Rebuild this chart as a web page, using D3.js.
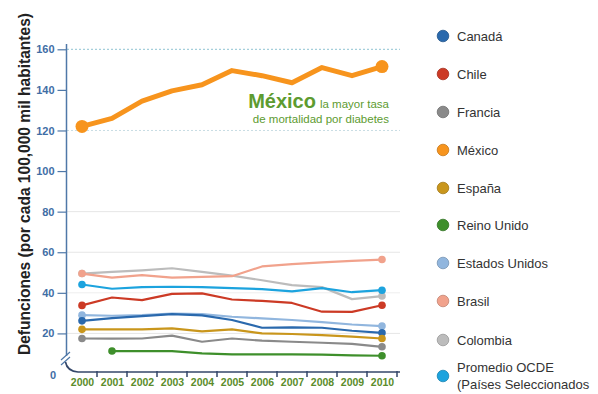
<!DOCTYPE html>
<html>
<head>
<meta charset="utf-8">
<script src="https://cdn.jsdelivr.net/npm/d3@7"></script>
<style>
  html, body { margin: 0; padding: 0; background: #fff; }
  svg { display: block; }
  text { font-family: Arial, "Liberation Sans", Helvetica, sans-serif; }
</style>
</head>
<body>
<svg id="chart" width="598" height="394"></svg>
<script>
// Mortalidad por diabetes, defunciones por cada 100,000 habitantes, 2000-2010
const years = [2000, 2001, 2002, 2003, 2004, 2005, 2006, 2007, 2008, 2009, 2010];
const yTicks = [20, 40, 60, 80, 100, 120, 140, 160];

const canada    = [26.2, 27.5, 28.5, 29.5, 28.9, 26.6, 22.8, 23.0, 22.8, 21.3, 20.3];
const chile     = [33.8, 37.7, 36.4, 39.5, 39.7, 36.7, 36.0, 35.0, 30.7, 30.6, 33.9];
const francia   = [17.5, 17.4, 17.5, 18.9, 15.9, 17.5, 16.4, 15.9, 15.4, 14.8, 13.4];
const mexico    = [122, 126, 134.5, 139.5, 142.5, 149.5, 147, 143.5, 151, 147, 151.5];
const espana    = [22.0, 22.0, 22.0, 22.5, 21.0, 22.0, 20.0, 19.7, 19.2, 18.4, 17.5];
const reinoUnido= [null, 11.3, 11.3, 11.3, 10.2, 9.7, 9.7, 9.7, 9.5, 9.2, 9.0];
const eeuu      = [29.0, 28.7, 29.0, 29.8, 29.5, 28.2, 27.4, 26.6, 25.6, 24.4, 23.6];
const brasil    = [49.5, 47.5, 48.7, 47.5, 47.9, 48.2, 53.0, 54.1, 55.0, 55.7, 56.4];
const colombia  = [49.5, 50.3, 51.1, 52.1, 50.3, 48.5, 46.2, 43.8, 42.8, 36.9, 38.4];
const ocde      = [44.1, 42.0, 42.8, 43.0, 42.8, 42.3, 41.8, 40.7, 42.3, 40.3, 41.3];

const seriesNames  = ["Canadá", "Chile", "Francia", "México", "España", "Reino Unido",
                      "Estados Unidos", "Brasil", "Colombia", "Promedio OCDE"];
const seriesValues = [canada, chile, francia, mexico, espana, reinoUnido,
                      eeuu, brasil, colombia, ocde];
const seriesColors = ["#2a69ad", "#cc3a25", "#8a8a8a", "#f7941d", "#c9961c", "#3e8f2b",
                      "#91b6de", "#f1a28c", "#bcbcbc", "#1ca3de"];
const legendLabels = [["Canadá"], ["Chile"], ["Francia"], ["México"], ["España"], ["Reino Unido"],
                      ["Estados Unidos"], ["Brasil"], ["Colombia"],
                      ["Promedio OCDE", "(Países Seleccionados"]];

const svg = d3.select("#chart");

const x = d3.scaleLinear().domain([2000, 2010]).range([82, 382]);
const y = d3.scaleLinear().domain([0, 160]).range([374, 49.3]);

// Gridlines
const gridStyle = {
  160: { c: "#8fc3d3", dash: "2,2" },
  120: { c: "#c8dde4", dash: "2,2" },
  80:  { c: "#e6e6e6", dash: null },
  60:  { c: "#e6e6e6", dash: null },
  40:  { c: "#eeeeee", dash: null },
  20:  { c: "#e6e6e6", dash: null }
};
svg.append("g").selectAll("line")
  .data(yTicks.filter(t => gridStyle[t]))
  .join("line")
  .attr("x1", 67).attr("x2", 400)
  .attr("y1", d => y(d)).attr("y2", d => y(d))
  .attr("stroke", d => gridStyle[d].c)
  .attr("stroke-width", 1)
  .attr("stroke-dasharray", d => gridStyle[d].dash);

// Y axis
const yAxis = svg.append("g")
  .attr("transform", "translate(66.5,0)")
  .call(d3.axisLeft(y).tickValues(yTicks).tickSize(9).tickPadding(3));
yAxis.select(".domain").remove();
yAxis.selectAll(".tick line").attr("stroke", "#4f78a8").attr("stroke-width", 1.2);
yAxis.selectAll(".tick text")
  .attr("fill", "#3f6ea6")
  .attr("font-size", 11)
  .attr("font-weight", "bold")
  .attr("font-family", "Arial, sans-serif");

svg.append("line")
  .attr("x1", 66.5).attr("x2", 66.5)
  .attr("y1", 44).attr("y2", 356)
  .attr("stroke", "#4f78a8").attr("stroke-width", 1.5);

// Axis break and curved join with the x axis
svg.append("path")
  .attr("d", "M61,360 L70,352 M61,365 L70,357")
  .attr("stroke", "#4f78a8").attr("stroke-width", 1.2).attr("fill", "none");
svg.append("path")
  .attr("d", "M65.5,362 Q67,371 78,372 L400,372")
  .attr("stroke", "#34476a").attr("stroke-width", 1.6).attr("fill", "none");

svg.append("text")
  .attr("x", 56).attr("y", y(0) + 5)
  .attr("text-anchor", "end")
  .attr("fill", "#3f6ea6").attr("font-size", 11).attr("font-weight", "bold")
  .text("0");

// X axis: tick marks between years, labels centred on years
const step = x(2001) - x(2000);
const tickPos = years.map(v => x(v) + step / 2);
svg.append("g").selectAll("line")
  .data(tickPos)
  .join("line")
  .attr("x1", d => d).attr("x2", d => d)
  .attr("y1", 371).attr("y2", 377)
  .attr("stroke", "#34476a").attr("stroke-width", 1.5);

const xAxis = svg.append("g")
  .attr("transform", "translate(0,372)")
  .call(d3.axisBottom(x).tickValues(years).tickFormat(d3.format("d")).tickSize(0).tickPadding(6));
xAxis.select(".domain").remove();
xAxis.selectAll(".tick text")
  .attr("fill", "#5b8c2a")
  .attr("font-size", 10.5)
  .attr("font-weight", "bold")
  .attr("font-family", "Arial, sans-serif")
  .attr("dy", "0.75em");

// Y axis title
svg.append("text")
  .attr("transform", "translate(30,184) rotate(-90)")
  .attr("text-anchor", "middle")
  .attr("font-size", 16)
  .attr("font-weight", "bold")
  .attr("fill", "#222")
  .attr("textLength", 342)
  .attr("lengthAdjust", "spacingAndGlyphs")
  .text("Defunciones (por cada 100,000 mil habitantes)");

// Lines
const line = d3.line()
  .defined(d => d.v !== null)
  .x(d => x(d.year))
  .y(d => y(d.v));

const drawOrder = [8, 7, 9, 1, 6, 0, 4, 2, 5, 3];
const plot = svg.append("g");
drawOrder.forEach(i => {
  const pts = years.map((yr, k) => ({ year: yr, v: seriesValues[i][k] }));
  const valid = pts.filter(p => p.v !== null);
  const isMx = seriesNames[i] === "México";
  plot.append("path")
    .datum(pts)
    .attr("d", line)
    .attr("fill", "none")
    .attr("stroke", seriesColors[i])
    .attr("stroke-width", isMx ? 5 : 2.2)
    .attr("stroke-linejoin", "round")
    .attr("stroke-linecap", "round");
  plot.selectAll(null)
    .data([valid[0], valid[valid.length - 1]])
    .join("circle")
    .attr("cx", d => x(d.year))
    .attr("cy", d => y(d.v))
    .attr("r", isMx ? 6.5 : 3.8)
    .attr("fill", seriesColors[i]);
});

// Annotation
const ann = svg.append("text")
  .attr("x", 389).attr("y", 108)
  .attr("text-anchor", "end")
  .attr("fill", "#5d9b30");
ann.append("tspan")
  .attr("font-size", 20).attr("font-weight", "bold")
  .text("México");
ann.append("tspan")
  .attr("font-size", 11.5).attr("dx", 4)
  .text("la mayor tasa");
svg.append("text")
  .attr("x", 389).attr("y", 123)
  .attr("text-anchor", "end")
  .attr("fill", "#5d9b30")
  .attr("font-size", 11.5)
  .text("de mortalidad por diabetes");

// Legend
const legendY = [36, 74, 112, 150, 188, 225, 263, 301, 340, 376];
const legend = svg.append("g");
seriesNames.forEach((name, i) => {
  const g = legend.append("g").attr("transform", `translate(443,${legendY[i]})`);
  g.append("circle")
    .attr("r", 5.8)
    .attr("fill", seriesColors[i])
    .attr("stroke", d3.color(seriesColors[i]).darker(0.6))
    .attr("stroke-width", 0.8);
  const lines = legendLabels[i];
  lines.forEach((t, k) => {
    g.append("text")
      .attr("x", 14)
      .attr("y", lines.length === 1 ? 4.5 : (k === 0 ? -4 : 13))
      .attr("font-size", 13)
      .attr("fill", "#333")
      .text(t);
  });
});
</script>
</body>
</html>
